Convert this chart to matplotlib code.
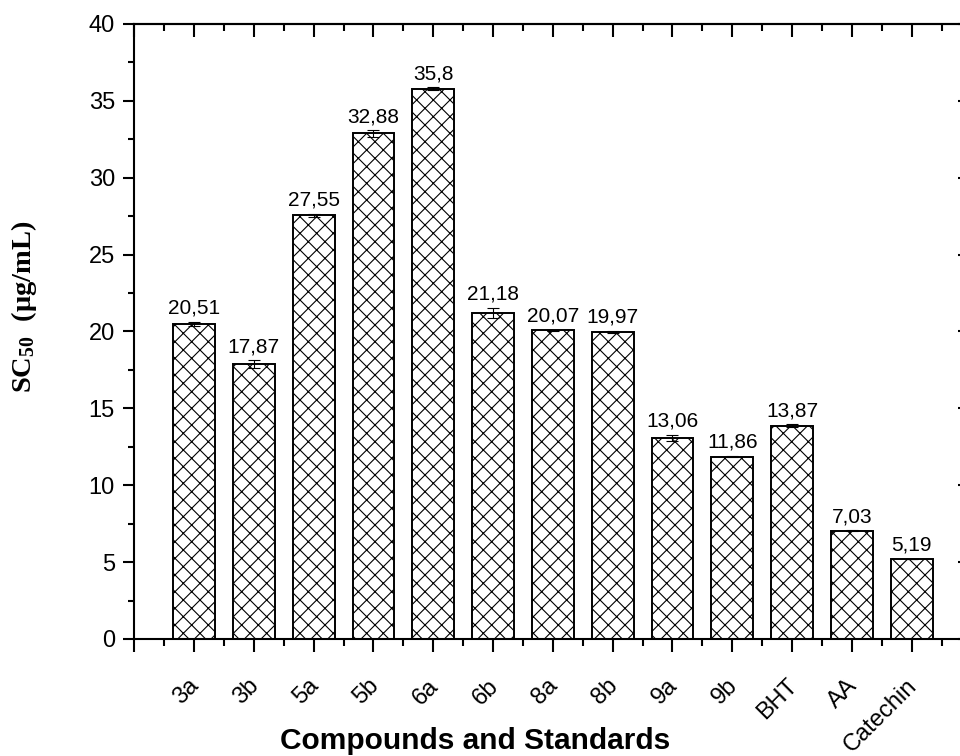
import matplotlib
matplotlib.use('Agg')
import matplotlib.pyplot as plt
import matplotlib.transforms as mtransforms
import numpy as np
from matplotlib.ticker import MultipleLocator, FixedLocator, NullFormatter

# data
labels = ['3a', '3b', '5a', '5b', '6a', '6b', '8a', '8b', '9a', '9b', 'BHT', 'AA', 'Catechin']
sc50 = [20.51, 17.87, 27.55, 32.88, 35.8, 21.18, 20.07, 19.97, 13.06, 11.86, 13.87, 7.03, 5.19]
sd = [0.13, 0.25, 0.10, 0.20, 0.07, 0.33, 0.05, 0.05, 0.20, 0.05, 0.08, 0.03, 0.02]

plt.rcParams['font.family'] = ['Liberation Sans', 'DejaVu Sans']
plt.rcParams['hatch.linewidth'] = 0.8
plt.rcParams['mathtext.fontset'] = 'custom'
plt.rcParams['mathtext.rm'] = 'Liberation Serif:bold'
plt.rcParams['mathtext.bf'] = 'Liberation Serif:bold'
plt.rcParams['mathtext.it'] = 'Liberation Serif:bold:italic'

fig = plt.figure(figsize=(9.6, 7.56), dpi=100)
ax = fig.add_axes([0.1399, 0.1548, 0.872, 0.8135])

x = np.arange(1, len(labels) + 1)
ax.bar(x, sc50, width=0.7, color='white', edgecolor='black', linewidth=1.4,
       hatch='xx', yerr=sd, capsize=4.5,
       error_kw=dict(elinewidth=0.8, capthick=0.8, ecolor='black'))

# value labels with comma decimals
for xi, v, e in zip(x, sc50, sd):
    txt = '{:g}'.format(v).replace('.', ',')
    ax.annotate(txt, (xi, v + e), xytext=(0, 6), textcoords='offset points',
                ha='center', va='baseline', fontsize=15)

ax.set_xlim(0, 14)
ax.set_ylim(0, 40)

major_x = np.arange(0, 15)
ax.xaxis.set_major_locator(FixedLocator(major_x))
ax.xaxis.set_minor_locator(FixedLocator(np.arange(0.5, 14, 1)))
ax.set_xticklabels([''] + labels + [''], rotation=45, ha='right', va='baseline',
                   rotation_mode='anchor')
ax.yaxis.set_major_locator(MultipleLocator(5))
ax.yaxis.set_minor_locator(MultipleLocator(2.5))

for s in ax.spines.values():
    s.set_linewidth(1.5)

ax.tick_params(axis='x', which='major', direction='out', length=9.5, width=1.5,
               labelsize=17, pad=25)
ax.tick_params(axis='x', which='minor', direction='out', length=5, width=1.5)
ax.tick_params(axis='y', which='major', direction='out', length=8, width=1.5,
               labelsize=17, pad=6)
ax.tick_params(axis='y', which='minor', direction='out', length=4, width=1.5)

# nudge rotated labels a little to the right
shift = mtransforms.ScaledTranslation(6 / 100, 0, fig.dpi_scale_trans)
for lab in ax.get_xticklabels():
    lab.set_transform(lab.get_transform() + shift)

# inward ticks on top and right
top = ax.secondary_xaxis('top')
top.xaxis.set_major_locator(FixedLocator(major_x))
top.xaxis.set_minor_locator(FixedLocator(np.arange(0.5, 14, 1)))
top.xaxis.set_major_formatter(NullFormatter())
top.tick_params(which='major', direction='in', length=9.5, width=1.5)
top.tick_params(which='minor', direction='in', length=5, width=1.5)
top.spines['top'].set_linewidth(1.5)

right = ax.secondary_yaxis('right')
right.yaxis.set_major_locator(MultipleLocator(5))
right.yaxis.set_minor_locator(MultipleLocator(2.5))
right.yaxis.set_major_formatter(NullFormatter())
right.tick_params(which='major', direction='in', length=9.5, width=1.5)
right.tick_params(which='minor', direction='in', length=5, width=1.5)
right.spines['right'].set_linewidth(1.5)

ax.set_xlabel('Compounds and Standards', fontsize=21.5, fontweight='bold')
ax.xaxis.set_label_coords(0.407, -0.143)
ax.xaxis.label.set_va('top')

ax.set_ylabel(r'$\mathbf{SC_{50}}$  (μg/mL)', fontsize=20.5, fontweight='bold',
              fontfamily='Liberation Serif')
ax.yaxis.set_label_coords(-0.114, 0.54)

fig.savefig('out.png', dpi=100)
